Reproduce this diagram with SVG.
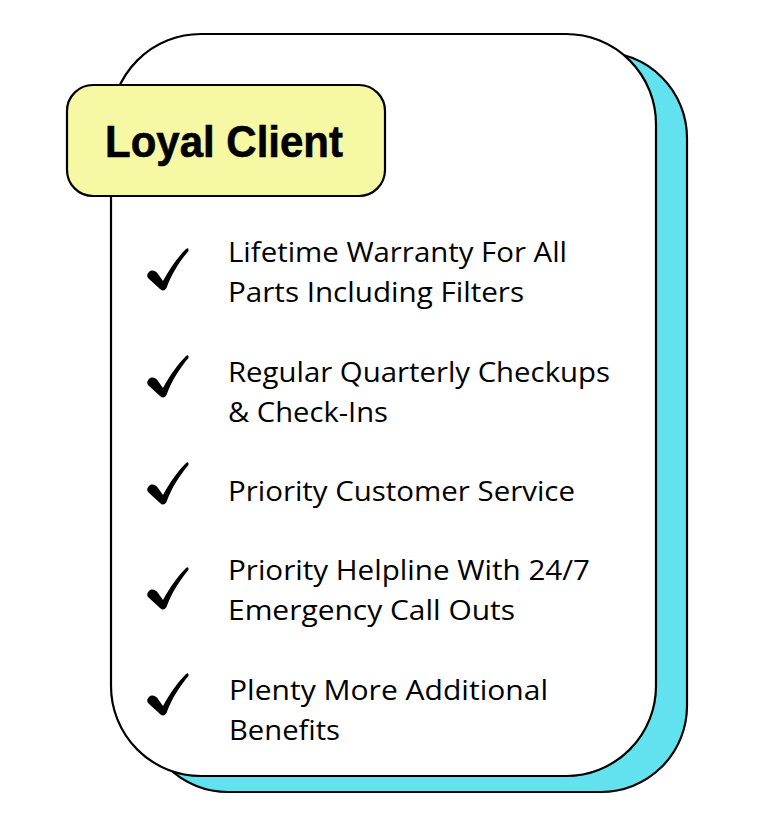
<svg xmlns="http://www.w3.org/2000/svg" width="768" height="815" viewBox="0 0 768 815">
<style>
.card{stroke:#000;stroke-width:2.2}
.item{font-family:"Open Sans","Liberation Sans",sans-serif;font-size:27px;fill:#000}
.title{font-family:"Liberation Sans",Arial,sans-serif;font-weight:bold;font-size:44px;fill:#000}
.chk{fill:#000}
</style>
<defs>
<path id="check" d="M2 24 C5 21 9 23 11 26 L16 33 C23 20 31 9 39 1 Q42 -1 41.5 3 C33 13 25 25 19.5 40 Q16.5 44.5 13 41 L1 30 Q-1 27 2 24 Z"/>
</defs>
<rect width="768" height="815" fill="#fff"/>
<g id="card-shadow">
<rect class="card" x="142" y="52" width="545" height="740" rx="86" ry="86" fill="#62E2EE"/>
</g>
<g id="card">
<rect class="card" x="111" y="34" width="545" height="742" rx="90" ry="90" fill="#fff"/>
</g>
<g id="title">
<rect class="card" x="67" y="85" width="318" height="111" rx="26" ry="26" fill="#F6F8A4"/>
<text class="title" x="105" y="157" textLength="238" lengthAdjust="spacingAndGlyphs" stroke="#000" stroke-width="0.6">Loyal Client</text>
</g>
<g id="item1">
<use href="#check" class="chk" x="147" y="248"/>
<text class="item" x="228" y="262" textLength="339" lengthAdjust="spacingAndGlyphs">Lifetime Warranty For All</text>
<text class="item" x="228" y="302" textLength="296" lengthAdjust="spacingAndGlyphs">Parts Including Filters</text>
</g>
<g id="item2">
<use href="#check" class="chk" x="147" y="355"/>
<text class="item" x="228" y="382" textLength="382" lengthAdjust="spacingAndGlyphs">Regular Quarterly Checkups</text>
<text class="item" x="228" y="422" textLength="160" lengthAdjust="spacingAndGlyphs">&amp; Check-Ins</text>
</g>
<g id="item3">
<use href="#check" class="chk" x="147" y="462"/>
<text class="item" x="228" y="501" textLength="347" lengthAdjust="spacingAndGlyphs">Priority Customer Service</text>
</g>
<g id="item4">
<use href="#check" class="chk" x="147" y="567"/>
<text class="item" x="228" y="580" textLength="362" lengthAdjust="spacingAndGlyphs">Priority Helpline With 24/7</text>
<text class="item" x="228" y="620" textLength="287" lengthAdjust="spacingAndGlyphs">Emergency Call Outs</text>
</g>
<g id="item5">
<use href="#check" class="chk" x="147" y="673"/>
<text class="item" x="229" y="700" textLength="319" lengthAdjust="spacingAndGlyphs">Plenty More Additional</text>
<text class="item" x="229" y="740" textLength="111" lengthAdjust="spacingAndGlyphs">Benefits</text>
</g>
<g id="connectors"/>
</svg>
